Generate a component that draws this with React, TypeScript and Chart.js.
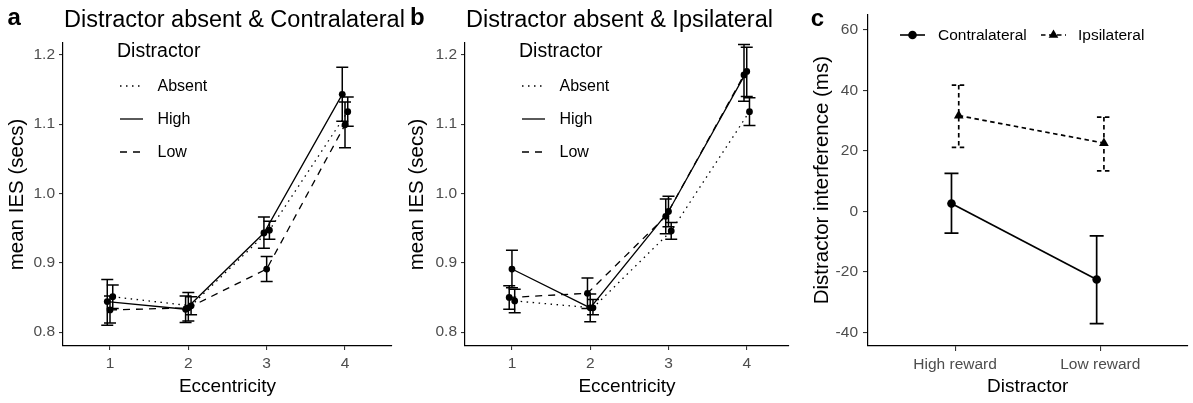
import React, { useEffect, useRef } from "react";
import { Chart, registerables } from "chart.js";

Chart.register(...registerables);

const FONT = "'Liberation Sans', Arial, Helvetica, sans-serif";
Chart.defaults.font.family = FONT;

// ---------- shared text / categories ----------
const panelLetters = ["a", "b", "c"];
const panelTitles = ["Distractor absent & Contralateral", "Distractor absent & Ipsilateral"];
const legendTitle = "Distractor";
const eccTitle = "Eccentricity";
const iesTitle = "mean IES (secs)";
const eccentricity = [1, 2, 3, 4];
const iesTicks = [0.8, 0.9, 1.0, 1.1, 1.2];
const distractorLevels = ["Absent", "High", "Low"];

// ---------- panel a : Distractor absent & Contralateral ----------
const aAbsent = [0.851, 0.838, 0.947, 1.118];
const aAbsentLo = [0.834, 0.825, 0.934, 1.097];
const aAbsentHi = [0.868, 0.851, 0.96, 1.139];
const aHigh = [0.844, 0.833, 0.943, 1.143];
const aHighLo = [0.81, 0.814, 0.921, 1.104];
const aHighHi = [0.876, 0.852, 0.966, 1.182];
const aLow = [0.832, 0.835, 0.891, 1.099];
const aLowLo = [0.813, 0.816, 0.873, 1.066];
const aLowHi = [0.852, 0.857, 0.909, 1.132];

// ---------- panel b : Distractor absent & Ipsilateral ----------
const bAbsent = [0.845, 0.835, 0.946, 1.118];
const bAbsentLo = [0.828, 0.825, 0.934, 1.098];
const bAbsentHi = [0.862, 0.847, 0.958, 1.138];
const bHigh = [0.891, 0.835, 0.974, 1.176];
const bHighLo = [0.864, 0.815, 0.952, 1.14];
const bHighHi = [0.918, 0.855, 0.996, 1.211];
const bLow = [0.85, 0.856, 0.967, 1.171];
const bLowLo = [0.833, 0.834, 0.942, 1.133];
const bLowHi = [0.867, 0.878, 0.992, 1.215];

// ---------- panel c : Distractor interference ----------
const rewardCategories = ["High reward", "Low reward"];
const hemifields = ["Contralateral", "Ipsilateral"];
const interferenceTitle = "Distractor interference (ms)";
const interferenceXTitle = "Distractor";
const interferenceTicks = [-40, -20, 0, 20, 40, 60];
const contraMean = [2.6, -22.5];
const contraLo = [-7.2, -37.1];
const contraHi = [12.6, -8.1];
const ipsiMean = [31.7, 22.6];
const ipsiLo = [21.2, 13.4];
const ipsiHi = [41.8, 31.2];

// ---------- styles ----------
const DASH: Record<string, number[]> = {
  Absent: [1.5, 4.5],
  High: [],
  Low: [7, 6],
  Contralateral: [],
  Ipsilateral: [4.5, 3.5],
};
const TICK_COLOR = "#4D4D4D";

// ---------- plugins ----------
const errorBarPlugin = {
  id: "errorBars",
  beforeDatasetsDraw(chart: any) {
    const { ctx } = chart;
    const x = chart.scales.x;
    const y = chart.scales.y;
    ctx.save();
    chart.data.datasets.forEach((ds: any) => {
      if (!ds.errLo) return;
      ctx.strokeStyle = "#000";
      ctx.lineWidth = ds.errWidth ?? 1.5;
      ctx.setLineDash(ds.errDash ?? []);
      const c = ds.capHalf ?? 6;
      ds.data.forEach((p: any, i: number) => {
        const px = x.getPixelForValue(p.x);
        const yl = y.getPixelForValue(ds.errLo[i]);
        const yh = y.getPixelForValue(ds.errHi[i]);
        ctx.beginPath();
        ctx.moveTo(px, yh);
        ctx.lineTo(px, yl);
        ctx.moveTo(px - c, yl);
        ctx.lineTo(px + c, yl);
        ctx.moveTo(px - c, yh);
        ctx.lineTo(px + c, yh);
        ctx.stroke();
      });
    });
    ctx.restore();
  },
};

function panelTitlePlugin(letter: string, title: string | null, letterX: number, letterY: number) {
  return {
    id: "panelTitle",
    afterDraw(chart: any) {
      const { ctx } = chart;
      ctx.save();
      ctx.fillStyle = "#000";
      ctx.textAlign = "left";
      ctx.textBaseline = "alphabetic";
      ctx.font = `bold 24px ${FONT}`;
      ctx.fillText(letter, letterX, letterY);
      if (title) {
        ctx.font = `23.5px ${FONT}`;
        ctx.fillText(title, chart.chartArea.left + 1, 26.5);
      }
      ctx.restore();
    },
  };
}

const iesLegendPlugin = {
  id: "iesLegend",
  afterDraw(chart: any) {
    const { ctx, chartArea } = chart;
    const L = chartArea.left;
    ctx.save();
    ctx.fillStyle = "#000";
    ctx.textAlign = "left";
    ctx.textBaseline = "alphabetic";
    ctx.font = `19.5px ${FONT}`;
    ctx.fillText(legendTitle, L + 54, 56.5);
    ctx.font = `16px ${FONT}`;
    ctx.textBaseline = "middle";
    distractorLevels.forEach((lvl, i) => {
      const ds = chart.data.datasets.find((d: any) => d.label === lvl);
      const yy = 86 + i * 33;
      ctx.strokeStyle = "#000";
      ctx.lineWidth = 1.3;
      ctx.setLineDash(ds ? ds.borderDash : []);
      ctx.beginPath();
      ctx.moveTo(L + 57, yy);
      ctx.lineTo(L + 80, yy);
      ctx.stroke();
      ctx.setLineDash([]);
      ctx.fillText(lvl, L + 94.5, yy + 0.5);
    });
    ctx.restore();
  },
};

const interferenceLegendPlugin = {
  id: "interferenceLegend",
  afterDraw(chart: any) {
    const { ctx, chartArea } = chart;
    const L = chartArea.left;
    const yy = 35;
    const keyStarts = [32, 173];
    const textStarts = [70, 210];
    ctx.save();
    ctx.fillStyle = "#000";
    ctx.strokeStyle = "#000";
    ctx.font = `15.5px ${FONT}`;
    ctx.textAlign = "left";
    ctx.textBaseline = "middle";
    hemifields.forEach((h, i) => {
      const ds = chart.data.datasets.find((d: any) => d.label === h);
      const x0 = L + keyStarts[i];
      ctx.lineWidth = 1.6;
      ctx.setLineDash(ds.borderDash);
      ctx.beginPath();
      ctx.moveTo(x0, yy);
      ctx.lineTo(x0 + 25, yy);
      ctx.stroke();
      ctx.setLineDash([]);
      const cx = x0 + 12.5;
      const r = ds.pointRadius;
      ctx.beginPath();
      if (ds.pointStyle === "triangle") {
        let a = 0;
        ctx.moveTo(cx + Math.sin(a) * r, yy - Math.cos(a) * r);
        a += (2 * Math.PI) / 3;
        ctx.lineTo(cx + Math.sin(a) * r, yy - Math.cos(a) * r);
        a += (2 * Math.PI) / 3;
        ctx.lineTo(cx + Math.sin(a) * r, yy - Math.cos(a) * r);
        ctx.closePath();
      } else {
        ctx.arc(cx, yy, r, 0, Math.PI * 2);
      }
      ctx.fill();
      ctx.fillText(h, L + textStarts[i], yy + 0.5);
    });
    ctx.restore();
  },
};

// ---------- axis helpers ----------
function tickAxisCommon(tickLength: number, padding: number) {
  return {
    ticks: {
      font: { size: 15.5, family: FONT },
      color: TICK_COLOR,
      padding,
      maxRotation: 0,
      autoSkip: false,
    },
    grid: {
      drawOnChartArea: false,
      drawTicks: true,
      tickLength,
      color: "#333333",
      lineWidth: 1.1,
    },
    border: { display: true, color: "#000", width: 1.2 },
  };
}

type Series = { label: string; mean: number[]; lo: number[]; hi: number[]; dx: number };

function buildIesConfig(
  letter: string,
  title: string,
  series: Series[],
  yAxisWidth: number,
  rightPad: number,
  xMax: number,
  yTitlePad: number,
  letterX: number
): any {
  const xc = tickAxisCommon(4, 4);
  const yc = tickAxisCommon(4, 4);
  return {
    type: "line",
    data: {
      datasets: series.map((s) => ({
        label: s.label,
        data: eccentricity.map((e, i) => ({ x: e + s.dx, y: s.mean[i] })),
        errLo: s.lo,
        errHi: s.hi,
        capHalf: 6,
        errWidth: 1.5,
        borderColor: "#000",
        backgroundColor: "#000",
        borderWidth: 1.3,
        borderDash: DASH[s.label],
        pointStyle: "circle",
        pointRadius: 3.4,
        pointHoverRadius: 3.4,
        pointBorderWidth: 0,
        tension: 0,
      })),
    },
    options: {
      responsive: false,
      animation: false,
      devicePixelRatio: 1,
      events: [],
      layout: { padding: { left: 0, top: 43, right: rightPad, bottom: 0 } },
      plugins: { legend: { display: false }, tooltip: { enabled: false }, title: { display: false } },
      scales: {
        x: {
          type: "linear",
          min: 0.4,
          max: xMax,
          afterBuildTicks: (s: any) => {
            s.ticks = eccentricity.map((v) => ({ value: v }));
          },
          afterFit: (s: any) => {
            s.height = 57;
          },
          ...xc,
          ticks: { ...xc.ticks, callback: (v: any) => String(v) },
          title: {
            display: true,
            text: eccTitle,
            color: "#000",
            font: { size: 19, family: FONT },
            padding: { top: 0, bottom: 4.6 },
          },
        },
        y: {
          type: "linear",
          min: 0.78,
          max: 1.217,
          afterBuildTicks: (s: any) => {
            s.ticks = iesTicks.map((v) => ({ value: v }));
          },
          afterFit: (s: any) => {
            s.width = yAxisWidth;
          },
          ...yc,
          ticks: { ...yc.ticks, callback: (v: any) => Number(v).toFixed(1) },
          title: {
            display: true,
            text: iesTitle,
            color: "#000",
            font: { size: 20.5, family: FONT },
            padding: { top: yTitlePad, bottom: 0 },
          },
        },
      },
    },
    plugins: [errorBarPlugin, iesLegendPlugin, panelTitlePlugin(letter, title, letterX, 25)],
  };
}

function buildInterferenceConfig(): any {
  const xc = tickAxisCommon(5, 3);
  const yc = tickAxisCommon(5, 5);
  const means = [contraMean, ipsiMean];
  const los = [contraLo, ipsiLo];
  const his = [contraHi, ipsiHi];
  const dxs = [-0.025, 0.025];
  return {
    type: "line",
    data: {
      datasets: hemifields.map((h, k) => ({
        label: h,
        data: rewardCategories.map((_, i) => ({ x: i + 1 + dxs[k], y: means[k][i] })),
        errLo: los[k],
        errHi: his[k],
        capHalf: 7,
        errWidth: 1.7,
        errDash: DASH[h],
        borderColor: "#000",
        backgroundColor: "#000",
        borderWidth: 1.7,
        borderDash: DASH[h],
        pointStyle: k === 0 ? "circle" : "triangle",
        pointRadius: k === 0 ? 4.3 : 5.6,
        pointHoverRadius: k === 0 ? 4.3 : 5.6,
        pointBorderWidth: 0,
        tension: 0,
      })),
    },
    options: {
      responsive: false,
      animation: false,
      devicePixelRatio: 1,
      events: [],
      layout: { padding: { left: 0, top: 7, right: 0, bottom: 0 } },
      plugins: { legend: { display: false }, tooltip: { enabled: false }, title: { display: false } },
      scales: {
        x: {
          type: "linear",
          min: 0.4,
          max: 2.6,
          afterBuildTicks: (s: any) => {
            s.ticks = rewardCategories.map((_, i) => ({ value: i + 1 }));
          },
          afterFit: (s: any) => {
            s.height = 57;
          },
          ...xc,
          ticks: {
            ...xc.ticks,
            padding: 4,
            callback: (v: any) => rewardCategories[Math.round(Number(v)) - 1] ?? "",
          },
          title: {
            display: true,
            text: interferenceXTitle,
            color: "#000",
            font: { size: 19, family: FONT },
            padding: { top: 0, bottom: 4.6 },
          },
        },
        y: {
          type: "linear",
          min: -44.5,
          max: 65.2,
          afterBuildTicks: (s: any) => {
            s.ticks = interferenceTicks.map((v) => ({ value: v }));
          },
          afterFit: (s: any) => {
            s.width = 68;
          },
          ...yc,
          ticks: { ...yc.ticks, callback: (v: any) => String(v) },
          title: {
            display: true,
            text: interferenceTitle,
            color: "#000",
            font: { size: 20.5, family: FONT },
            padding: { top: 9.7, bottom: 0 },
          },
        },
      },
    },
    plugins: [errorBarPlugin, interferenceLegendPlugin, panelTitlePlugin(panelLetters[2], null, 10.7, 26)],
  };
}

function ChartCanvas({ left, width, build }: { left: number; width: number; build: () => any }) {
  const ref = useRef<HTMLCanvasElement | null>(null);
  useEffect(() => {
    if (!ref.current) return;
    const chart = new Chart(ref.current, build());
    return () => chart.destroy();
  }, []);
  return (
    <canvas
      ref={ref}
      width={width}
      height={403}
      style={{ position: "absolute", left, top: 0, width, height: 403, display: "block" }}
    />
  );
}

export default function App() {
  const seriesA: Series[] = [
    { label: "Absent", mean: aAbsent, lo: aAbsentLo, hi: aAbsentHi, dx: 0.035 },
    { label: "High", mean: aHigh, lo: aHighLo, hi: aHighHi, dx: -0.035 },
    { label: "Low", mean: aLow, lo: aLowLo, hi: aLowHi, dx: 0 },
  ];
  const seriesB: Series[] = [
    { label: "Absent", mean: bAbsent, lo: bAbsentLo, hi: bAbsentHi, dx: 0.035 },
    { label: "High", mean: bHigh, lo: bHighLo, hi: bHighHi, dx: 0 },
    { label: "Low", mean: bLow, lo: bLowLo, hi: bLowHi, dx: -0.035 },
  ];
  return (
    <div
      style={{
        position: "absolute",
        left: 0,
        top: 0,
        width: 1193,
        height: 403,
        background: "#fff",
        overflow: "hidden",
      }}
    >
      <ChartCanvas
        left={0}
        width={410}
        build={() => buildIesConfig(panelLetters[0], panelTitles[0], seriesA, 63, 18, 4.6, 4.7, 7.5)}
      />
      <ChartCanvas
        left={400}
        width={400}
        build={() => buildIesConfig(panelLetters[1], panelTitles[1], seriesB, 65, 11, 4.54, 5.2, 10)}
      />
      <ChartCanvas left={800} width={393} build={buildInterferenceConfig} />
    </div>
  );
}
